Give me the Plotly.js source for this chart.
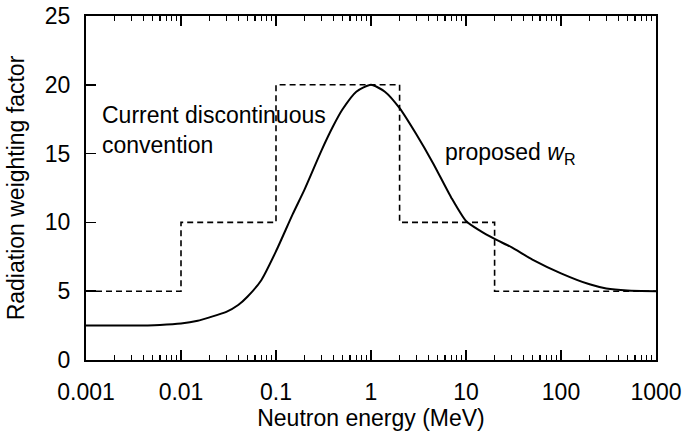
<!DOCTYPE html>
<html>
<head>
<meta charset="utf-8">
<script src="https://cdn.plot.ly/plotly-3.0.1.min.js"></script>
<style>html,body{margin:0;padding:0;background:#fff;}#chart{width:689px;height:433px;}</style>
</head>
<body>
<div id="chart"></div>
<script>
// Current discontinuous convention: step boundaries (MeV) and values
const stepEnergy = [0.001, 0.01, 0.1, 2, 20, 1000];
const stepWeight = [5, 10, 20, 10, 5, 5];

// Proposed continuous w_R curve
const curveEnergy = [0.001, 0.003, 0.006, 0.01, 0.015, 0.02, 0.03, 0.04, 0.05, 0.07, 0.1, 0.15, 0.2, 0.3, 0.4, 0.5, 0.7, 1, 1.4, 2, 3, 4.5, 7, 10, 14, 20, 30, 50, 100, 200, 300, 500, 1000];
const curveWeight = [2.5, 2.5, 2.55, 2.65, 2.85, 3.1, 3.5, 4.0, 4.6, 5.8, 7.9, 10.6, 12.4, 15.2, 17.0, 18.2, 19.5, 20, 19.5, 18.3, 16.4, 14.3, 11.8, 10.1, 9.4, 8.8, 8.2, 7.3, 6.3, 5.5, 5.2, 5.05, 5.0];

const xTickVals = [0.001, 0.01, 0.1, 1, 10, 100, 1000];
const xTickText = ['0.001', '0.01', '0.1', '1', '10', '100', '1000'];
const xMinorVals = [];
for (let d = -3; d < 3; d++) {
  for (let m = 2; m <= 9; m++) xMinorVals.push(m * Math.pow(10, d));
}
const yTickVals = [0, 5, 10, 15, 20, 25];

const FONT = 'Liberation Sans, Arial, Helvetica, sans-serif';

const traces = [
  {
    x: stepEnergy, y: stepWeight, type: 'scatter', mode: 'lines',
    line: {shape: 'hv', color: '#000', width: 1.6, dash: '6px,4px'},
    hoverinfo: 'skip', showlegend: false
  },
  {
    x: curveEnergy, y: curveWeight, type: 'scatter', mode: 'lines',
    line: {shape: 'spline', smoothing: 0.6, color: '#000', width: 2},
    hoverinfo: 'skip', showlegend: false
  }
];

const layout = {
  width: 689, height: 433,
  margin: {l: 86, r: 33, t: 16, b: 73},
  paper_bgcolor: '#fff', plot_bgcolor: '#fff',
  font: {family: FONT, size: 23, color: '#000'},
  showlegend: false,
  xaxis: {
    type: 'log', range: [-3, 3],
    tickmode: 'array', tickvals: xTickVals, ticktext: xTickText,
    ticks: 'inside', ticklen: 10, tickwidth: 1.5, tickcolor: '#000',
    minor: {tickmode: 'array', tickvals: xMinorVals, ticks: 'inside', ticklen: 5, tickwidth: 1.2, tickcolor: '#000', showgrid: false},
    showline: true, linewidth: 2, linecolor: '#000', mirror: 'ticks',
    showgrid: false, zeroline: false,
    ticklabelstandoff: 10,
    tickfont: {family: FONT, size: 23, color: '#000'},
    title: {text: 'Neutron energy (MeV)', font: {family: FONT, size: 23, color: '#000'}, standoff: 2}
  },
  yaxis: {
    range: [0, 25], tickvals: yTickVals,
    ticks: 'inside', ticklen: 10, tickwidth: 1.5, tickcolor: '#000',
    showline: true, linewidth: 2, linecolor: '#000', mirror: true,
    showgrid: false, zeroline: false,
    ticklabelstandoff: 9,
    tickfont: {family: FONT, size: 23, color: '#000'},
    title: {text: 'Radiation weighting factor', font: {family: FONT, size: 23, color: '#000'}, standoff: 14}
  },
  annotations: [
    {
      xref: 'x', yref: 'y', x: -2.853, y: 16.7,
      text: 'Current discontinuous<br>convention', showarrow: false,
      xanchor: 'left', yanchor: 'middle', align: 'left',
      font: {family: FONT, size: 23, color: '#000'}
    },
    {
      xref: 'x', yref: 'y', x: 0.758, y: 15.0,
      text: 'proposed <i>w</i><sub>R</sub>', showarrow: false,
      xanchor: 'left', yanchor: 'middle', align: 'left',
      font: {family: FONT, size: 23, color: '#000'}
    }
  ]
};

Plotly.newPlot('chart', traces, layout, {staticPlot: true, displayModeBar: false});
</script>
</body>
</html>
